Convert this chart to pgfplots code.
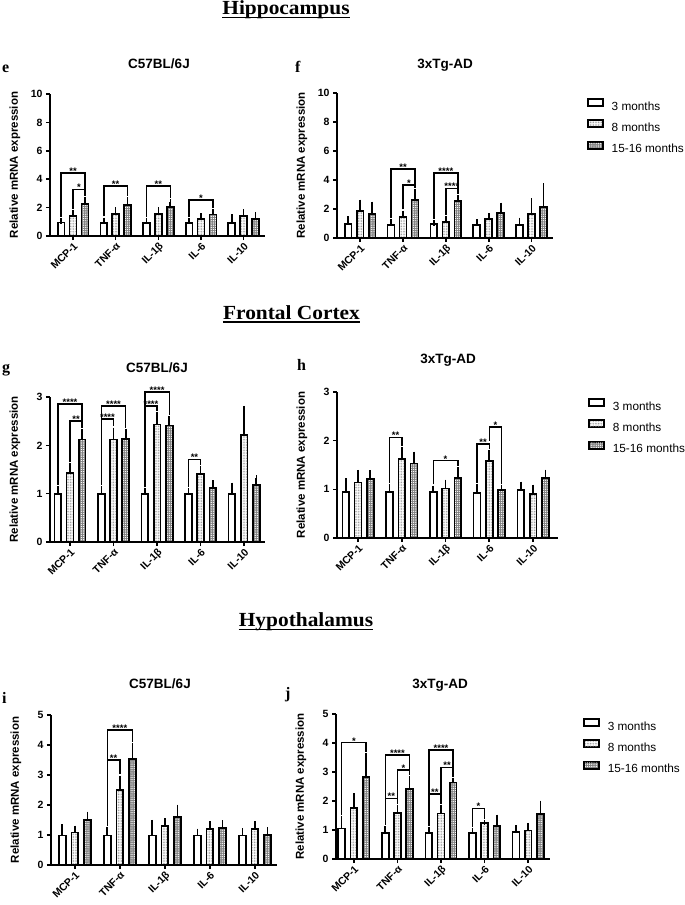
\documentclass[border=0pt]{standalone}
\usepackage{fontspec}
\setmainfont{Liberation Sans}
\newfontfamily\serifb{Liberation Serif}
\usepackage{graphicx}
\usepackage{pgfplots}
\pgfplotsset{compat=1.18}
\usetikzlibrary{patterns.meta}

\newcommand{\sig}[6]{\draw[line width=1.5pt, black] (axis cs:#1,#4) |- node[pos=0.75, anchor=base, inner sep=0pt, yshift=-1.5pt, font=\bfseries\fontsize{9.5}{9.5}\selectfont]{#6} (axis cs:#2,#3) -- (axis cs:#2,#5);}

\pgfplotsset{
  panel/.style={
    scale only axis, axis x line*=bottom, axis y line*=left,
    axis line style={line width=2pt},
    ymin=0, xtick={0,1,2,3,4}, xticklabels={MCP-1,TNF-α,IL-1β,IL-6,IL-10},
    tick align=outside, major tick length=4pt, tick style={line width=1.6pt, black},
    xticklabel style={rotate=45, anchor=north east, font=\bfseries\fontsize{10.5}{10.5}\selectfont, inner sep=1pt},
    yticklabel style={font=\bfseries\fontsize{10.5}{11}\selectfont},
    /pgf/number format/assume math mode=true,
    ylabel={Relative mRNA expression},
    every axis y label/.style={at={(axis description cs:0,0.5)}, xshift=-35pt, rotate=90, anchor=center, font=\bfseries\fontsize{11.5}{12}\selectfont},
    ybar, bar width=6.8pt,
    clip=false,
    error bars/y dir=plus, error bars/y explicit,
    error bars/error bar style={line width=1.6pt, black},
    error bars/error mark options={line width=1.6pt, mark size=2.8pt, black},
  },
  legpanel/.style={
    legend style={draw=none, fill=none, anchor=north west, font=\fontsize{11.8}{12}\selectfont, row sep=8pt, inner sep=0pt, nodes={inner sep=0pt}, /tikz/every odd column/.append style={column sep=8pt}},
    legend cell align=left,
  },
  s3/.style={draw=black, line width=1.7pt, fill=white, bar shift=0pt},
  s8/.style={draw=black, line width=1.7pt, preaction={fill=white}, pattern={Dots[distance=1.6pt, radius=0.45pt]}, pattern color=black!50, bar shift=0pt},
  s15/.style={draw=black, line width=1.7pt, preaction={fill=black!50}, pattern={Dots[distance=2.2pt, radius=0.7pt]}, pattern color=white, bar shift=0pt},
}

\begin{document}
\begin{tikzpicture}
\path[use as bounding box] (0pt,0pt) rectangle (685pt,-905pt);

% headers
\node[anchor=base, font=\serifb\bfseries\fontsize{20}{20}\selectfont, inner sep=0pt] (H1) at (286pt,-14.5pt) {\scalebox{1.07}[1]{Hippocampus}};
\draw[line width=1.5pt] ([yshift=-3pt]H1.base west) -- ([yshift=-3pt]H1.base east);
\node[anchor=base, font=\serifb\bfseries\fontsize{20}{20}\selectfont, inner sep=0pt] (H2) at (291.5pt,-319pt) {\scalebox{1.07}[1]{Frontal Cortex}};
\draw[line width=1.5pt] ([yshift=-3pt]H2.base west) -- ([yshift=-3pt]H2.base east);
\node[anchor=base, font=\serifb\bfseries\fontsize{20}{20}\selectfont, inner sep=0pt] (H3) at (306pt,-626.7pt) {\scalebox{1.07}[1]{Hypothalamus}};
\draw[line width=1.5pt] ([yshift=-3pt]H3.base west) -- ([yshift=-3pt]H3.base east);

% panel letters
\node[anchor=base west, font=\serifb\bfseries\fontsize{16}{16}\selectfont, inner sep=0pt] at (2pt,-72pt) {e};
\node[anchor=base west, font=\serifb\bfseries\fontsize{16}{16}\selectfont, inner sep=0pt] at (295pt,-72pt) {f};
\node[anchor=base west, font=\serifb\bfseries\fontsize{16}{16}\selectfont, inner sep=0pt] at (2pt,-372pt) {g};
\node[anchor=base west, font=\serifb\bfseries\fontsize{16}{16}\selectfont, inner sep=0pt] at (297pt,-370pt) {h};
\node[anchor=base west, font=\serifb\bfseries\fontsize{16}{16}\selectfont, inner sep=0pt] at (2pt,-703pt) {i};
\node[anchor=base west, font=\serifb\bfseries\fontsize{16}{16}\selectfont, inner sep=0pt] at (285pt,-698pt) {j};

% titles
\node[anchor=base, font=\bfseries\fontsize{13.5}{14}\selectfont, inner sep=0pt] at (159pt,-68pt) {C57BL/6J};
\node[anchor=base, font=\bfseries\fontsize{13.5}{14}\selectfont, inner sep=0pt] at (445pt,-68pt) {3xTg-AD};
\node[anchor=base, font=\bfseries\fontsize{13.5}{14}\selectfont, inner sep=0pt] at (157pt,-372pt) {C57BL/6J};
\node[anchor=base, font=\bfseries\fontsize{13.5}{14}\selectfont, inner sep=0pt] at (448pt,-363pt) {3xTg-AD};
\node[anchor=base, font=\bfseries\fontsize{13.5}{14}\selectfont, inner sep=0pt] at (160pt,-688pt) {C57BL/6J};
\node[anchor=base, font=\bfseries\fontsize{13.5}{14}\selectfont, inner sep=0pt] at (440pt,-688pt) {3xTg-AD};

% ---------- e ----------
\begin{axis}[panel, at={(50pt,-236pt)}, anchor=south west, width=215pt, height=142pt,
  xmin=-0.54, xmax=4.5, ymax=10, ytick={0,2,4,6,8,10}]
\addplot[s3] coordinates {(-0.28,0.95)+-(0,0.12) (0.72,0.93)+-(0,0.17) (1.72,0.93)+-(0,0.15) (2.72,0.94)+-(0,0.10) (3.72,0.93)+-(0,0.41)};
\addplot[s8] coordinates {(0,1.42)+-(0,0.23) (1,1.55)+-(0,0.27) (2,1.55)+-(0,0.29) (3,1.18)+-(0,0.24) (4,1.39)+-(0,0.31)};
\addplot[s15] coordinates {(0.28,2.24)+-(0,0.33) (1.28,2.19)+-(0,0.33) (2.28,2.05)+-(0,0.33) (3.28,1.51)+-(0,0.19) (4.28,1.22)+-(0,0.29)};
\sig{-0.28}{0.28}{4.42}{1.35}{2.85}{**}
\sig{0}{0.28}{3.28}{1.93}{2.85}{*}
\sig{0.72}{1.28}{3.51}{1.38}{2.8}{**}
\sig{1.72}{2.28}{3.51}{1.36}{2.66}{**}
\sig{2.72}{3.28}{2.52}{1.32}{1.98}{*}
\end{axis}

% ---------- f ----------
\begin{axis}[panel, legpanel, at={(337pt,-238pt)}, anchor=south west, width=216pt, height=145pt,
  xmin=-0.54, xmax=4.5, ymax=10, ytick={0,2,4,6,8,10},
  legend style={at={(axis description cs:1.157,1)}, yshift=-5pt},
  legend image code/.code={\draw[#1, line width=1.6pt] (0pt,0.5pt) rectangle (15pt,7.5pt);}]
\addplot[s3] coordinates {(-0.28,0.95)+-(0,0.34) (0.72,0.92)+-(0,0.18) (1.72,0.95)+-(0,0.09) (2.72,0.92)+-(0,0.18) (3.72,0.92)+-(0,0.30)};
\addplot[s8] coordinates {(0,1.87)+-(0,0.58) (1,1.45)+-(0,0.24) (2,1.11)+-(0,0.18) (3,1.29)+-(0,0.23) (4,1.66)+-(0,0.88)};
\addplot[s15] coordinates {(0.28,1.66)+-(0,0.65) (1.28,2.61)+-(0,0.58) (2.28,2.56)+-(0,0.21) (3.28,1.73)+-(0,0.51) (4.28,2.12)+-(0,1.46)};
\legend{3 months, 8 months, 15-16 months}
\sig{0.72}{1.28}{4.76}{1.38}{3.47}{**}
\sig{1}{1.28}{3.65}{1.97}{3.47}{*}
\sig{1.72}{2.28}{4.5}{1.32}{3.05}{****}
\sig{2}{2.28}{3.42}{1.57}{3.05}{****}
\end{axis}

% ---------- g ----------
\begin{axis}[panel, at={(50pt,-542pt)}, anchor=south west, width=215pt, height=145pt,
  xmin=-0.46, xmax=4.48, ymax=3, ytick={0,1,2,3}]
\addplot[s3] coordinates {(-0.28,0.99)+-(0,0.11) (0.72,0.99)+-(0,0.11) (1.72,0.99)+-(0,0.06) (2.72,0.99)+-(0,0.07) (3.72,0.99)+-(0,0.18)};
\addplot[s8] coordinates {(0,1.43)+-(0,0.14) (1,2.12)+-(0,0.19) (2,2.43)+-(0,0.21) (3,1.40)+-(0,0.12) (4,2.21)+-(0,0.55)};
\addplot[s15] coordinates {(0.28,2.12)+-(0,0.16) (1.28,2.13)+-(0,0.14) (2.28,2.41)+-(0,0.13) (3.28,1.12)+-(0,0.10) (4.28,1.18)+-(0,0.14)};
\sig{-0.28}{0.28}{2.86}{1.18}{2.36}{****}
\sig{0}{0.28}{2.5}{1.65}{2.36}{**}
\sig{0.72}{1.28}{2.81}{1.18}{2.35}{****}
\sig{0.72}{1}{2.54}{1.18}{2.39}{****}
\sig{1.72}{2.28}{3.1}{1.13}{2.62}{****}
\sig{1.72}{2}{2.81}{1.13}{2.72}{****}
\sig{2.72}{3}{1.71}{1.14}{1.6}{**}
\end{axis}

% ---------- h ----------
\begin{axis}[panel, legpanel, at={(337pt,-538pt)}, anchor=south west, width=221pt, height=146pt,
  xmin=-0.48, xmax=4.57, ymax=3, ytick={0,1,2,3},
  legend style={at={(axis description cs:1.136,1)}, yshift=-6pt},
  legend image code/.code={\draw[#1, line width=1.6pt] (0pt,0.5pt) rectangle (15pt,7.5pt);}]
\addplot[s3] coordinates {(-0.28,0.94)+-(0,0.23) (0.72,0.94)+-(0,0.12) (1.72,0.94)+-(0,0.08) (2.72,0.93)+-(0,0.13) (3.72,0.99)+-(0,0.11)};
\addplot[s8] coordinates {(0,1.14)+-(0,0.20) (1,1.62)+-(0,0.19) (2,1.02)+-(0,0.12) (3,1.58)+-(0,0.17) (4,0.90)+-(0,0.14)};
\addplot[s15] coordinates {(0.28,1.21)+-(0,0.12) (1.28,1.53)+-(0,0.19) (2.28,1.24)+-(0,0.16) (3.28,0.99)+-(0,0.05) (4.28,1.24)+-(0,0.11)};
\legend{3 months, 8 months, 15-16 months}
\sig{0.72}{1}{2.07}{1.14}{1.89}{**}
\sig{1.72}{2.28}{1.59}{1.10}{1.48}{*}
\sig{2.72}{3}{1.93}{1.14}{1.83}{**}
\sig{3}{3.28}{2.28}{2.0}{1.12}{*}
\end{axis}

% ---------- i ----------
\begin{axis}[panel, at={(51pt,-865pt)}, anchor=south west, width=226pt, height=150pt,
  xmin=-0.53, xmax=4.49, ymax=5, ytick={0,1,2,3,4,5}]
\addplot[s3] coordinates {(-0.28,0.98)+-(0,0.28) (0.72,0.98)+-(0,0.19) (1.72,0.98)+-(0,0.43) (2.72,0.98)+-(0,0.14) (3.72,0.98)+-(0,0.16)};
\addplot[s8] coordinates {(0,1.08)+-(0,0.14) (1,2.50)+-(0,0.39) (2,1.31)+-(0,0.16) (3,1.21)+-(0,0.16) (4,1.21)+-(0,0.16)};
\addplot[s15] coordinates {(0.28,1.50)+-(0,0.19) (1.28,3.54)+-(0,0.44) (2.28,1.59)+-(0,0.33) (3.28,1.23)+-(0,0.17) (4.28,1.00)+-(0,0.16)};
\sig{0.72}{1.28}{4.5}{1.3}{4.11}{****}
\sig{0.72}{1}{3.5}{1.3}{3.02}{**}
\end{axis}

% ---------- j ----------
\begin{axis}[panel, legpanel, at={(336pt,-859pt)}, anchor=south west, width=214pt, height=145pt,
  xmin=-0.41, xmax=4.5, ymax=5, ytick={0,1,2,3,4,5},
  legend style={at={(axis description cs:1.154,1)}, yshift=-4pt},
  legend image code/.code={\draw[#1, line width=1.6pt] (0pt,0.5pt) rectangle (15pt,7.5pt);}]
\addplot[s3] coordinates {(-0.28,1.05)+-(0,0.35) (0.72,0.90)+-(0,0.15) (1.72,0.90)+-(0,0.12) (2.72,0.89)+-(0,0.09) (3.72,0.92)+-(0,0.14)};
\addplot[s8] coordinates {(0,1.77)+-(0,0.40) (1,1.59)+-(0,0.16) (2,1.57)+-(0,0.21) (3,1.23)+-(0,0.03) (4,0.98)+-(0,0.17)};
\addplot[s15] coordinates {(0.28,2.82)+-(0,0.74) (1.28,2.41)+-(0,0.37) (2.28,2.64)+-(0,0.07) (3.28,1.14)+-(0,0.29) (4.28,1.56)+-(0,0.36)};
\legend{3 months, 8 months, 15-16 months}
\sig{-0.28}{0.28}{4.01}{1.53}{3.69}{*}
\sig{0.72}{1.28}{3.59}{1.18}{2.91}{****}
\sig{1}{1.28}{3.07}{1.88}{2.91}{*}
\sig{0.72}{1}{2.09}{1.18}{1.88}{**}
\sig{1.72}{2.28}{3.76}{1.15}{2.84}{****}
\sig{2}{2.28}{3.16}{1.91}{2.84}{**}
\sig{1.72}{2}{2.24}{1.15}{1.91}{**}
\sig{2.72}{3}{1.75}{1.11}{1.39}{*}
\end{axis}
\end{tikzpicture}
\end{document}
